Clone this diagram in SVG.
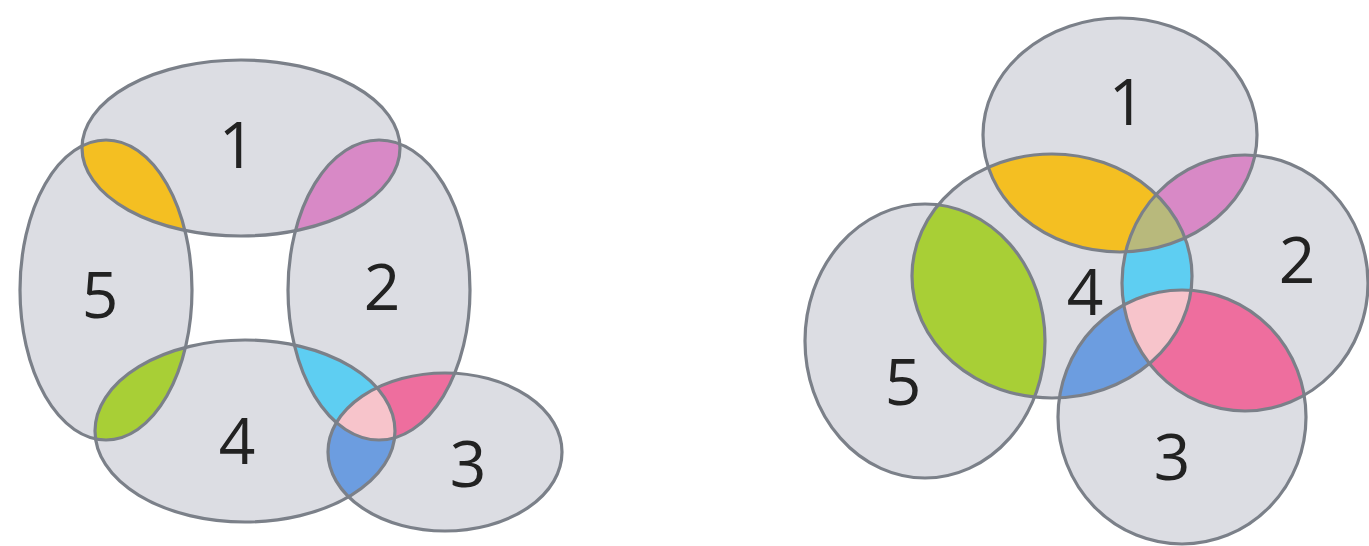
<svg xmlns="http://www.w3.org/2000/svg" width="1369" height="546" viewBox="0 0 1369 546">
<style>
.g{fill:#dcdde3}
.o{fill:none;stroke:#7b8089;stroke-width:3.2}
.t{font-family:"Open Sans","Liberation Sans",sans-serif;font-size:64px;fill:#222;text-anchor:middle}
</style>
<defs>
<ellipse id="L1" cx="241" cy="148" rx="159" ry="88"/>
<ellipse id="L5" cx="106" cy="290" rx="86" ry="150"/>
<ellipse id="L2" cx="379" cy="290" rx="91" ry="150"/>
<ellipse id="L4" cx="245" cy="431" rx="150" ry="91"/>
<ellipse id="L3" cx="445" cy="452" rx="117" ry="79"/>
<ellipse id="R1" cx="1120" cy="135" rx="137" ry="117"/>
<ellipse id="R4" cx="1052" cy="276" rx="140" ry="122"/>
<ellipse id="R2" cx="1245" cy="283" rx="123" ry="128"/>
<ellipse id="R5" cx="925" cy="341" rx="120" ry="137"/>
<ellipse id="R3" cx="1182" cy="417" rx="124" ry="127"/>
<clipPath id="cL1"><use href="#L1"/></clipPath>
<clipPath id="cL2"><use href="#L2"/></clipPath>
<clipPath id="cL3"><use href="#L3"/></clipPath>
<clipPath id="cL4"><use href="#L4"/></clipPath>
<clipPath id="cL5"><use href="#L5"/></clipPath>
<clipPath id="cL23"><use href="#L2" clip-path="url(#cL3)"/></clipPath>
<clipPath id="cR1"><use href="#R1"/></clipPath>
<clipPath id="cR2"><use href="#R2"/></clipPath>
<clipPath id="cR3"><use href="#R3"/></clipPath>
<clipPath id="cR4"><use href="#R4"/></clipPath>
<clipPath id="cR5"><use href="#R5"/></clipPath>
<clipPath id="cR42"><use href="#R4" clip-path="url(#cR2)"/></clipPath>
</defs>
<rect width="1369" height="546" fill="#ffffff"/>
<g id="left">
<g id="left-fills">
<use href="#L1" class="g"/><use href="#L5" class="g"/><use href="#L2" class="g"/><use href="#L4" class="g"/><use href="#L3" class="g"/>
<use href="#L1" fill="#f4bf22" clip-path="url(#cL5)"/>
<use href="#L1" fill="#d889c6" clip-path="url(#cL2)"/>
<use href="#L5" fill="#a8cf36" clip-path="url(#cL4)"/>
<use href="#L2" fill="#5ecef2" clip-path="url(#cL4)"/>
<use href="#L2" fill="#ee6e9e" clip-path="url(#cL3)"/>
<use href="#L4" fill="#6c9de0" clip-path="url(#cL3)"/>
<use href="#L4" fill="#f7c4cb" clip-path="url(#cL23)"/>
</g>
<g id="left-outlines">
<use href="#L1" class="o"/><use href="#L5" class="o"/><use href="#L2" class="o"/><use href="#L4" class="o"/><use href="#L3" class="o"/>
</g>
<g id="left-labels">
<text class="t" x="237" y="168">1</text>
<text class="t" x="382" y="310">2</text>
<text class="t" x="468" y="487">3</text>
<text class="t" x="237" y="464">4</text>
<text class="t" x="100" y="318">5</text>
</g>
</g>
<g id="right">
<g id="right-fills">
<use href="#R1" class="g"/><use href="#R4" class="g"/><use href="#R2" class="g"/><use href="#R5" class="g"/><use href="#R3" class="g"/>
<use href="#R1" fill="#f4bf22" clip-path="url(#cR4)"/>
<use href="#R1" fill="#d889c6" clip-path="url(#cR2)"/>
<use href="#R5" fill="#a8cf36" clip-path="url(#cR4)"/>
<use href="#R4" fill="#5ecef2" clip-path="url(#cR2)"/>
<use href="#R1" fill="#b8b97c" clip-path="url(#cR42)"/>
<use href="#R3" fill="#ee6e9e" clip-path="url(#cR2)"/>
<use href="#R3" fill="#6c9de0" clip-path="url(#cR4)"/>
<use href="#R3" fill="#f7c4cb" clip-path="url(#cR42)"/>
</g>
<g id="right-outlines">
<use href="#R1" class="o"/><use href="#R4" class="o"/><use href="#R2" class="o"/><use href="#R5" class="o"/><use href="#R3" class="o"/>
</g>
<g id="right-labels">
<text class="t" x="1127" y="125">1</text>
<text class="t" x="1297" y="283">2</text>
<text class="t" x="1172" y="480">3</text>
<text class="t" x="1085" y="315">4</text>
<text class="t" x="903" y="405">5</text>
</g>
</g>
</svg>
